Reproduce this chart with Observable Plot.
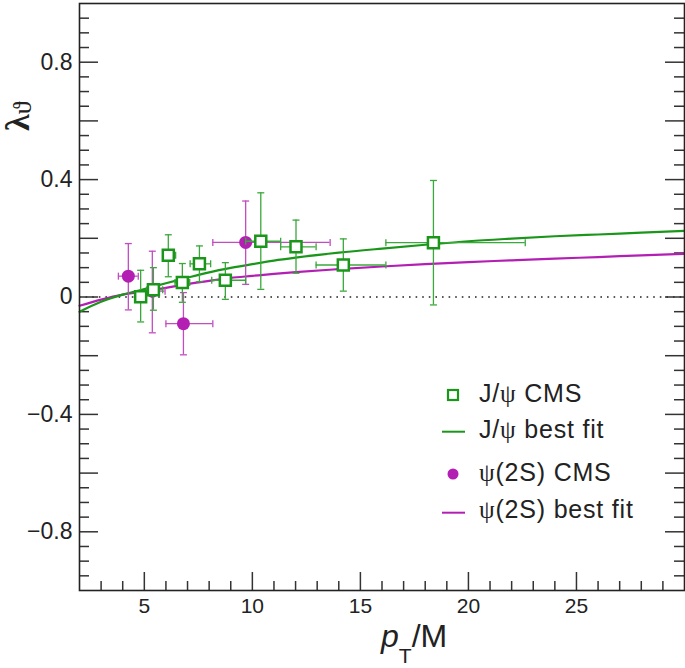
<!DOCTYPE html>
<html><head><meta charset="utf-8">
<script src="https://cdn.jsdelivr.net/npm/d3@7"></script>
<script src="https://cdn.jsdelivr.net/npm/@observablehq/plot@0.6"></script>
<style>
body{margin:0;background:#fff;}
#wrap{position:relative;width:685px;height:668px;font-family:"Liberation Sans",Arial,sans-serif;}
#wrap svg.overlay{position:absolute;left:0;top:0;pointer-events:none;}
</style></head><body><div id="wrap"></div>
<script>
// J/psi CMS data (pT/M, lambda_theta)
const jpsiX   = [4.83, 5.42, 6.11, 6.76, 7.55, 8.75, 10.39, 12.02, 14.21, 18.38];
const jpsiY   = [0.001, 0.025, 0.142, 0.049, 0.113, 0.057, 0.190, 0.171, 0.109, 0.185];
const jpsiYLo = [-0.085, -0.045, 0.069, -0.018, 0.052, -0.008, 0.026, 0.081, 0.020, -0.027];
const jpsiYHi = [0.091, 0.100, 0.212, 0.114, 0.174, 0.117, 0.355, 0.262, 0.198, 0.397];
const jpsiXLo = [4.65, 5.12, 5.88, 6.42, 7.12, 8.12, 9.69, 11.31, 12.95, 16.18];
const jpsiXHi = [5.00, 5.85, 6.45, 7.10, 8.07, 9.69, 11.31, 12.95, 16.18, 22.63];
// psi(2S) CMS data
const psiX   = [4.26, 5.37, 6.81, 9.69];
const psiY   = [0.071, 0.020, -0.091, 0.186];
const psiYLo = [-0.044, -0.122, -0.197, 0.043];
const psiYHi = [0.182, 0.156, 0.015, 0.327];
const psiXLo = [3.80, 5.11, 6.00, 8.17];
const psiXHi = [4.72, 5.96, 8.17, 13.60];
// best-fit curves
const fitX     = [2, 3, 4, 5, 6, 7, 8, 9, 10, 11, 12, 14, 16, 18, 20, 22, 24, 26, 28, 30];
const jpsiFitY = [-0.050, -0.016, 0.008, 0.027, 0.047, 0.066, 0.084, 0.099, 0.112, 0.124, 0.134, 0.151, 0.165, 0.178, 0.190, 0.199, 0.207, 0.213, 0.219, 0.225];
const psiFitY  = [-0.030, -0.009, 0.008, 0.019, 0.031, 0.044, 0.055, 0.065, 0.072, 0.079, 0.085, 0.095, 0.104, 0.112, 0.119, 0.125, 0.131, 0.136, 0.142, 0.147];
// axis tick labels
const xTickLabels = [5, 10, 15, 20, 25];
const yTickLabels = [-0.8, -0.4, 0, 0.4, 0.8];

const GREEN = "#1a961a", GREEN_ERR = "#3aa83a";
const PURPLE = "#b31fb3", PURPLE_ERR = "#c14dc1";

const jpsi = jpsiX.map((x, i) => ({x, y: jpsiY[i], ylo: jpsiYLo[i], yhi: jpsiYHi[i], xlo: jpsiXLo[i], xhi: jpsiXHi[i]}));
const psi = psiX.map((x, i) => ({x, y: psiY[i], ylo: psiYLo[i], yhi: psiYHi[i], xlo: psiXLo[i], xhi: psiXHi[i]}));
const jfit = fitX.map((x, i) => ({x, y: jpsiFitY[i]}));
const pfit = fitX.map((x, i) => ({x, y: psiFitY[i]}));

const W = 685, H = 668, mL = 79, mR = 1, mT = 3, mB = 78;
const xDom = [2, 30], yDom = [-1, 1];
const pxX = (W - mL - mR) / (xDom[1] - xDom[0]);
const pxY = (H - mT - mB) / (yDom[1] - yDom[0]);

const yAll = d3.range(-19, 20).map(i => Math.round(i * 5) / 100);
const yMaj = yAll.filter(v => Math.abs(Math.round(v * 100) % 20) === 0);
const yMin = yAll.filter(v => Math.abs(Math.round(v * 100) % 20) !== 0);
const xAll = d3.range(3, 30);
const xMaj = xAll.filter(v => v % 5 === 0);
const xMin = xAll.filter(v => v % 5 !== 0);

const hcap = {draw(ctx, size) { const r = Math.sqrt(size / Math.PI); ctx.moveTo(-r, 0); ctx.lineTo(r, 0); }};
const vcap = {draw(ctx, size) { const r = Math.sqrt(size / Math.PI); ctx.moveTo(0, -r); ctx.lineTo(0, r); }};
const TK = "#333";

function errMarks(data, col) {
  return [
    Plot.ruleX(data, {x: "x", y1: "ylo", y2: "yhi", stroke: col, strokeWidth: 1.3}),
    Plot.ruleY(data, {y: "y", x1: "xlo", x2: "xhi", stroke: col, strokeWidth: 1.3}),
    Plot.dot(data, {x: "x", y: "ylo", symbol: hcap, r: 3.5, stroke: col, fill: "none", strokeWidth: 1.3}),
    Plot.dot(data, {x: "x", y: "yhi", symbol: hcap, r: 3.5, stroke: col, fill: "none", strokeWidth: 1.3}),
    Plot.dot(data, {x: "xlo", y: "y", symbol: vcap, r: 3.5, stroke: col, fill: "none", strokeWidth: 1.3}),
    Plot.dot(data, {x: "xhi", y: "y", symbol: vcap, r: 3.5, stroke: col, fill: "none", strokeWidth: 1.3})
  ];
}

const chart = Plot.plot({
  width: W, height: H,
  marginLeft: mL, marginRight: mR, marginTop: mT, marginBottom: mB,
  style: {fontFamily: "'Liberation Sans', Arial, sans-serif", color: "#222", background: "#fff"},
  x: {domain: xDom},
  y: {domain: yDom},
  marks: [
    Plot.ruleY([0], {stroke: "#222", strokeWidth: 1.6, strokeDasharray: "1.6,5"}),
    // left ticks
    Plot.ruleY(yMaj, {y: d => d, x1: xDom[0], x2: xDom[0] + 19 / pxX, stroke: TK, strokeWidth: 1.5}),
    Plot.ruleY(yMin, {y: d => d, x1: xDom[0], x2: xDom[0] + 10 / pxX, stroke: TK, strokeWidth: 1.5}),
    // right ticks
    Plot.ruleY(yMaj, {y: d => d, x1: xDom[1] - 19 / pxX, x2: xDom[1], stroke: TK, strokeWidth: 1.5}),
    Plot.ruleY(yMin, {y: d => d, x1: xDom[1] - 10 / pxX, x2: xDom[1], stroke: TK, strokeWidth: 1.5}),
    // bottom ticks
    Plot.ruleX(xMaj, {x: d => d, y1: yDom[0], y2: yDom[0] + 18 / pxY, stroke: TK, strokeWidth: 1.5}),
    Plot.ruleX(xMin, {x: d => d, y1: yDom[0], y2: yDom[0] + 9 / pxY, stroke: TK, strokeWidth: 1.5}),
    Plot.axisY({ticks: yTickLabels, tickSize: 0, tickPadding: 7, fontSize: 23, label: null,
      tickFormat: d => d === 0 ? "0" : d3.format(".1f")(d)}),
    Plot.axisX({ticks: xTickLabels, tickSize: 0, tickPadding: 8, fontSize: 21, label: null}),
    Plot.line(pfit, {x: "x", y: "y", stroke: PURPLE, strokeWidth: 2.2, curve: "monotone-x"}),
    Plot.line(jfit, {x: "x", y: "y", stroke: GREEN, strokeWidth: 2.2, curve: "monotone-x"}),
    ...errMarks(psi, PURPLE_ERR),
    Plot.dot(psi, {x: "x", y: "y", r: 6.5, fill: PURPLE, stroke: "none"}),
    ...errMarks(jpsi, GREEN_ERR),
    Plot.dot(jpsi, {x: "x", y: "y", symbol: "square", r: 6.2, fill: "#fff", stroke: GREEN, strokeWidth: 2.5}),
    Plot.frame({stroke: "#222", strokeWidth: 1.6})
  ]
});

const wrap = document.getElementById("wrap");
wrap.appendChild(chart);

const ns = "http://www.w3.org/2000/svg";
const ov = document.createElementNS(ns, "svg");
ov.setAttribute("class", "overlay");
ov.setAttribute("width", W); ov.setAttribute("height", H);
const SANS = "'Liberation Sans', Arial, sans-serif";
const SERIF = "'Liberation Serif', 'DejaVu Serif', serif";
ov.innerHTML = `
  <g font-family="${SANS}" fill="#222">
    <text x="381" y="647" font-size="32"><tspan font-style="italic">p</tspan><tspan font-size="21" dy="16">T</tspan><tspan dy="-16">/M</tspan></text>
    <text transform="translate(29,131) rotate(-90)" font-family="${SERIF}" font-size="34" font-weight="bold">λ<tspan font-size="26" font-weight="normal" dy="2">ϑ</tspan></text>
  </g>
  <g font-family="${SANS}" font-size="25" letter-spacing="0.8" fill="#222">
    <rect x="448" y="390" width="10" height="10" fill="#fff" stroke="${GREEN}" stroke-width="2.2"/>
    <text x="479" y="402">J/<tspan font-family="${SERIF}">ψ</tspan> CMS</text>
    <line x1="442" x2="465" y1="431.7" y2="431.7" stroke="${GREEN}" stroke-width="2"/>
    <text x="479" y="438">J/<tspan font-family="${SERIF}">ψ</tspan> best fit</text>
    <circle cx="453" cy="474" r="5.5" fill="${PURPLE}"/>
    <text x="479" y="481"><tspan font-family="${SERIF}">ψ</tspan>(2S) CMS</text>
    <line x1="442" x2="465" y1="512.7" y2="512.7" stroke="${PURPLE}" stroke-width="2"/>
    <text x="479" y="518"><tspan font-family="${SERIF}">ψ</tspan>(2S) best fit</text>
  </g>`;
wrap.appendChild(ov);
</script></body></html>
